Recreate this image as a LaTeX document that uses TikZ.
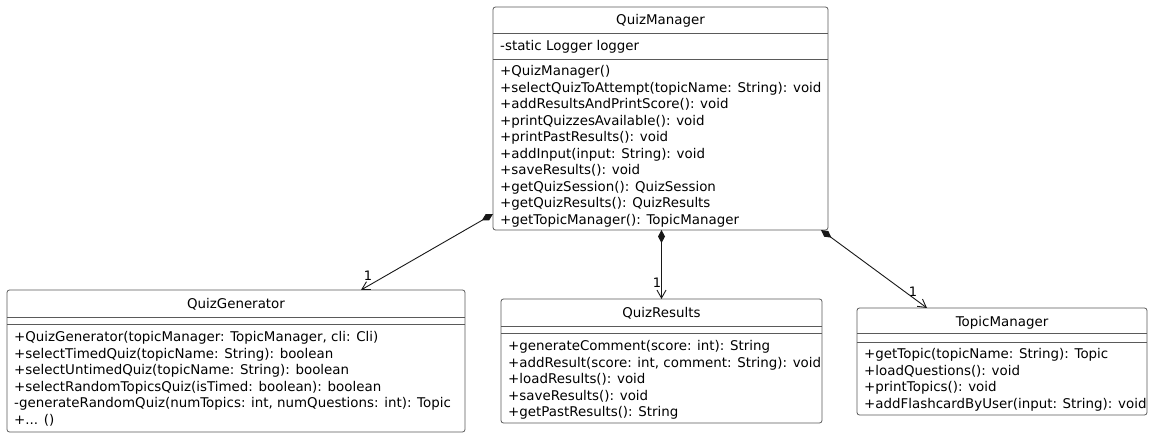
\documentclass[tikz,border=0pt]{standalone}
\usepackage{fontspec}
\setmainfont{DejaVu Sans}
\usetikzlibrary{arrows.meta,calc}
\definecolor{umlline}{HTML}{5A5A5A}
\definecolor{umlconn}{HTML}{181818}
\tikzset{
  cls/.style={draw=umlline, fill=white, line width=0.8pt, rounded corners=2.5pt,
    inner sep=0pt, outer sep=0pt, anchor=north west},
  sepline/.style={draw=umlline, line width=0.8pt},
  mline/.style={anchor=base west, inner sep=0pt, font=\fontsize{13.4}{16}\selectfont, text=black},
  ttl/.style={anchor=base, inner sep=0pt, font=\fontsize{13.4}{16}\selectfont, text=black},
  comp/.style={draw=umlconn, line width=0.9pt,
    {Diamond[length=13pt,width=7pt]}-{Straight Barb[length=8pt,width=9pt]}},
  mult/.style={inner sep=0pt, font=\fontsize{13}{15}\selectfont, text=black}
}
\begin{document}
\begin{tikzpicture}[x=1pt,y=-1pt]
\useasboundingbox[fill=white] (0,0) rectangle (1153,438);

% ---------- QuizManager ----------
\node[cls, minimum width=335pt, minimum height=223pt] (qm) at (493,7) {};
\draw[sepline] ($(qm.north west)+(0,26)$) -- ($(qm.north east)+(0,26)$);
\draw[sepline] ($(qm.north west)+(0,52)$) -- ($(qm.north east)+(0,52)$);
\node[ttl] (qmt) at (660.5,24.5) {QuizManager};
\node[mline] (qma) at (500,50.5) {-static Logger logger};
\node[mline] (qm1) at (500,75.5) {+QuizManager()};
\node[mline] (qm2) at (500,92.05) {+selectQuizToAttempt(topicName: String): void};
\node[mline] (qm3) at (500,108.6) {+addResultsAndPrintScore(): void};
\node[mline] (qm4) at (500,125.15) {+printQuizzesAvailable(): void};
\node[mline] (qm5) at (500,141.7) {+printPastResults(): void};
\node[mline] (qm6) at (500,158.25) {+addInput(input: String): void};
\node[mline] (qm7) at (500,174.8) {+saveResults(): void};
\node[mline] (qm8) at (500,191.35) {+getQuizSession(): QuizSession};
\node[mline] (qm9) at (500,207.9) {+getQuizResults(): QuizResults};
\node[mline] (qm10) at (500,224.45) {+getTopicManager(): TopicManager};

% ---------- QuizGenerator ----------
\node[cls, minimum width=458pt, minimum height=142pt] (qg) at (7,290) {};
\draw[sepline] ($(qg.north west)+(0,27)$) -- ($(qg.north east)+(0,27)$);
\draw[sepline] ($(qg.north west)+(0,34)$) -- ($(qg.north east)+(0,34)$);
\node[ttl] (qgt) at (236,308.5) {QuizGenerator};
\node[mline] (qg1) at (14,341.5) {+QuizGenerator(topicManager: TopicManager, cli: Cli)};
\node[mline] (qg2) at (14,358.05) {+selectTimedQuiz(topicName: String): boolean};
\node[mline] (qg3) at (14,374.6) {+selectUntimedQuiz(topicName: String): boolean};
\node[mline] (qg4) at (14,391.15) {+selectRandomTopicsQuiz(isTimed: boolean): boolean};
\node[mline] (qg5) at (14,407.7) {-generateRandomQuiz(numTopics: int, numQuestions: int): Topic};
\node[mline] (qg6) at (14,424.25) {+... ()};

% ---------- QuizResults ----------
\node[cls, minimum width=321pt, minimum height=124pt] (qr) at (501,299) {};
\draw[sepline] ($(qr.north west)+(0,27)$) -- ($(qr.north east)+(0,27)$);
\draw[sepline] ($(qr.north west)+(0,34)$) -- ($(qr.north east)+(0,34)$);
\node[ttl] (qrt) at (661.5,317.5) {QuizResults};
\node[mline] (qr1) at (508,350.5) {+generateComment(score: int): String};
\node[mline] (qr2) at (508,367.05) {+addResult(score: int, comment: String): void};
\node[mline] (qr3) at (508,383.6) {+loadResults(): void};
\node[mline] (qr4) at (508,400.15) {+saveResults(): void};
\node[mline] (qr5) at (508,416.7) {+getPastResults(): String};

% ---------- TopicManager ----------
\node[cls, minimum width=290pt, minimum height=107pt] (tm) at (857,308) {};
\draw[sepline] ($(tm.north west)+(0,25)$) -- ($(tm.north east)+(0,25)$);
\draw[sepline] ($(tm.north west)+(0,34)$) -- ($(tm.north east)+(0,34)$);
\node[ttl] (tmt) at (1002,326.5) {TopicManager};
\node[mline] (tm1) at (864,358.5) {+getTopic(topicName: String): Topic};
\node[mline] (tm2) at (864,375.05) {+loadQuestions(): void};
\node[mline] (tm3) at (864,391.6) {+printTopics(): void};
\node[mline] (tm4) at (864,408.15) {+addFlashcardByUser(input: String): void};

% ---------- Connectors ----------
\draw[comp] ($(qm.south west)+(0,-16)$) -- ($(qg.north west)+(354,0)$);
\draw[comp] (qr.north |- qm.south) -- (qr.north);
\draw[comp] ($(qm.south east)+(-7,0)$) -- ($(tm.north west)+(70,0)$);
\node[mult] (m1) at (368,276) {1};
\node[mult] (m2) at (657,283) {1};
\node[mult] (m3) at (913,292) {1};
\end{tikzpicture}
\end{document}
